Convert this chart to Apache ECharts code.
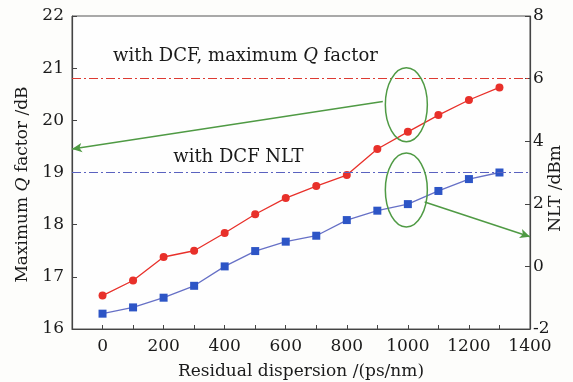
<!DOCTYPE html>
<html>
<head>
<meta charset="utf-8">
<script src="https://cdn.jsdelivr.net/npm/echarts@6/dist/echarts.min.js"></script>
<style>
  html, body { margin: 0; padding: 0; background: #fdfdfb; }
  #main { width: 573px; height: 382px; }
</style>
</head>
<body>
<div id="main"></div>
<script>
// residual dispersion, ps/nm
var dispersion = [0, 100, 200, 300, 400, 500, 600, 700, 800, 900, 1000, 1100, 1200, 1300];
// maximum Q factor, dB (left axis)
var qFactor = [16.64, 16.93, 17.38, 17.50, 17.84, 18.20, 18.51, 18.74, 18.95, 19.45, 19.78, 20.10, 20.39, 20.63];
// NLT, dBm (right axis)
var nlt = [-1.51, -1.31, -1.0, -0.62, 0.0, 0.49, 0.79, 0.98, 1.48, 1.78, 1.99, 2.41, 2.79, 3.0];
// reference levels with DCF
var dcfMaxQ = 20.8;
var dcfNlt = 3;

var serif = 'DejaVu Serif';
var green = '#4f9a44';
var ink = '#1a1a1a';

var myChart = echarts.init(document.getElementById('main'));

function pairs(xs, ys) {
    return xs.map(function (x, i) { return [x, ys[i]]; });
}

var option = {
    backgroundColor: '#fdfdfb',
    animation: false,
    grid: {
        left: 72, right: 43, top: 16, bottom: 53,
        outerBoundsMode: 'none',
        show: true,
        backgroundColor: '#fefefe',
        borderColor: '#555',
        borderWidth: 1
    },
    xAxis: {
        type: 'value',
        min: -100,
        max: 1400,
        interval: 100,
        name: 'Residual dispersion /(ps/nm)',
        nameLocation: 'middle',
        nameGap: 34,
        nameTextStyle: { fontFamily: serif, fontSize: 17, color: ink },
        axisLine: { onZero: false, lineStyle: { color: '#444', width: 1.2 } },
        axisTick: { inside: true, length: 4, lineStyle: { color: '#444' } },
        axisLabel: {
            fontFamily: serif, fontSize: 17, color: ink, margin: 9,
            formatter: function (v) { return (v >= 0 && v % 200 === 0) ? String(v) : ''; }
        },
        splitLine: { show: false }
    },
    yAxis: [
        {
            type: 'value',
            min: 16, max: 22, interval: 1,
            name: 'Maximum {q|Q} factor /dB',
            nameLocation: 'middle',
            nameGap: 38,
            nameRotate: 90,
            nameTextStyle: {
                fontFamily: serif, fontSize: 17, color: ink,
                padding: [0, 24, 0, 0],
                rich: { q: { fontFamily: serif, fontSize: 17, fontStyle: 'italic', color: ink } }
            },
            axisLine: { show: true, onZero: false, lineStyle: { color: '#444', width: 1.2 } },
            axisTick: { show: true, inside: true, length: 5, lineStyle: { color: '#444' } },
            axisLabel: { fontFamily: serif, fontSize: 17, color: ink, margin: 8 },
            splitLine: { show: false }
        },
        {
            type: 'value',
            min: -2, max: 8, interval: 2,
            name: 'NLT /dBm',
            nameLocation: 'middle',
            nameGap: 17,
            nameMoveOverlap: false,
            nameRotate: 90,
            nameTextStyle: { fontFamily: serif, fontSize: 17, color: ink, padding: [0, 32, 0, 0] },
            axisLine: { show: true, onZero: false, lineStyle: { color: '#444', width: 1.2 } },
            axisTick: { show: true, inside: true, length: 5, lineStyle: { color: '#444' } },
            axisLabel: { fontFamily: serif, fontSize: 17, color: ink, margin: 3 },
            splitLine: { show: false }
        }
    ],
    series: [
        {
            name: 'Q',
            type: 'line',
            yAxisIndex: 0,
            data: pairs(dispersion, qFactor),
            symbol: 'circle',
            symbolSize: 8,
            itemStyle: { color: '#e8302a' },
            lineStyle: { color: '#e8302a', width: 1.3 },
            z: 3,
            markLine: {
                silent: true,
                symbol: ['none', 'none'],
                label: { show: false },
                data: [
                    [{ coord: [-100, dcfMaxQ], lineStyle: { color: '#dd3a32', width: 1.2, type: [9, 3, 2, 3] } },
                     { coord: [1400, dcfMaxQ] }],
                    [{ coord: [918, 20.36], symbol: 'none', lineStyle: { color: green, width: 1.5, type: 'solid' } },
                     { coord: [-100, 19.45], symbol: 'arrow', symbolSize: [7, 10] }]
                ]
            }
        },
        {
            name: 'NLT',
            type: 'line',
            yAxisIndex: 1,
            data: pairs(dispersion, nlt),
            symbol: 'rect',
            symbolSize: 8,
            itemStyle: { color: '#2d55c6' },
            lineStyle: { color: '#6670c6', width: 1.3 },
            z: 3,
            markLine: {
                silent: true,
                symbol: ['none', 'none'],
                label: { show: false },
                data: [
                    [{ coord: [-100, dcfNlt], lineStyle: { color: '#5a62c0', width: 1.2, type: [9, 3, 2, 3] } },
                     { coord: [1400, dcfNlt] }],
                    [{ coord: [1055, 2.06], symbol: 'none', lineStyle: { color: green, width: 1.5, type: 'solid' } },
                     { coord: [1400, 0.95], symbol: 'arrow', symbolSize: [7, 10] }]
                ]
            }
        }
    ]
};
myChart.setOption(option);

// annotations placed through the axes
var p1 = myChart.convertToPixel({ xAxisIndex: 0, yAxisIndex: 0 }, [995, 20.3]);
var p2 = myChart.convertToPixel({ xAxisIndex: 0, yAxisIndex: 1 }, [995, 2.44]);
var t1 = myChart.convertToPixel({ xAxisIndex: 0, yAxisIndex: 0 }, [468, 21.22]);
var t2 = myChart.convertToPixel({ xAxisIndex: 0, yAxisIndex: 0 }, [445, 19.30]);

myChart.setOption({
    graphic: [
        { type: 'ellipse', shape: { cx: p1[0], cy: p1[1], rx: 21, ry: 37 },
          style: { fill: 'none', stroke: green, lineWidth: 1.5 }, z: 10 },
        { type: 'ellipse', shape: { cx: p2[0], cy: p2[1], rx: 21, ry: 37 },
          style: { fill: 'none', stroke: green, lineWidth: 1.5 }, z: 10 },
        { type: 'text', x: t1[0], y: t1[1], z: 10,
          style: {
              text: 'with DCF, maximum {q|Q} factor', fill: ink,
              font: '18px "DejaVu Serif"', align: 'center', verticalAlign: 'middle',
              rich: { q: { fontStyle: 'italic', fontFamily: serif, fontSize: 18, fill: ink } }
          } },
        { type: 'text', x: t2[0], y: t2[1], z: 10,
          style: {
              text: 'with DCF NLT', fill: ink,
              font: '18px "DejaVu Serif"', align: 'center', verticalAlign: 'middle'
          } }
    ]
});
</script>
</body>
</html>
